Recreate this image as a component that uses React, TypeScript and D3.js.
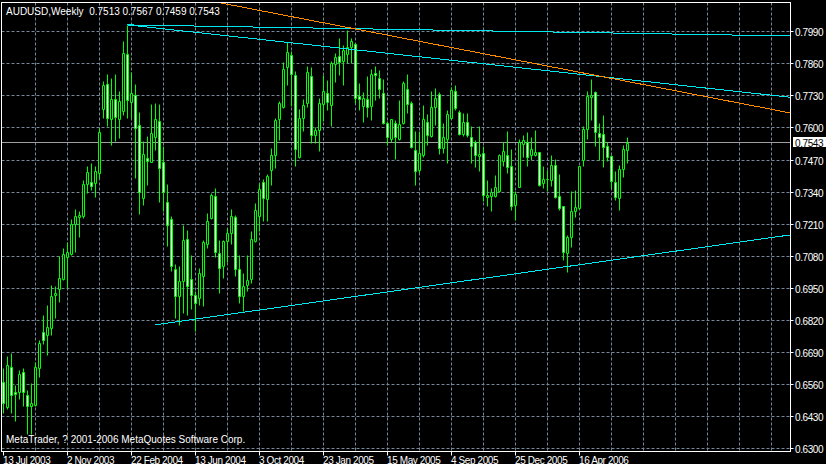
import { useEffect, useRef } from 'react';
import * as d3 from 'd3';

const symbol = 'AUDUSD';
const period = 'Weekly';

// weekly bars from 13 Jul 2003
const open = [
  0.6571, 0.6471, 0.6633, 0.6531, 0.6531, 0.6614, 0.6521, 0.6474, 0.6478, 0.6629,
  0.6775, 0.6762, 0.6789, 0.6926, 0.6949, 0.6991, 0.7079, 0.7092, 0.7214, 0.7239,
  0.7243, 0.7374, 0.7382, 0.7378, 0.7419, 0.7678, 0.7779, 0.7638, 0.7719, 0.7638,
  0.7669, 0.7901, 0.7709, 0.7736, 0.7615, 0.7318, 0.7480, 0.7464, 0.7567, 0.7632,
  0.7466, 0.7302, 0.7233, 0.7028, 0.6920, 0.6980, 0.7152, 0.6990, 0.6925, 0.6913,
  0.7001, 0.7131, 0.7237, 0.7327, 0.7095, 0.7041, 0.7142, 0.7176, 0.7241, 0.7030,
  0.6922, 0.6967, 0.6990, 0.7142, 0.7244, 0.7383, 0.7314, 0.7430, 0.7493, 0.7638,
  0.7686, 0.7848, 0.7898, 0.7817, 0.7484, 0.7642, 0.7703, 0.7811, 0.7574, 0.7594,
  0.7698, 0.7743, 0.7696, 0.7860, 0.7892, 0.7875, 0.7901, 0.7932, 0.7941, 0.7730,
  0.7693, 0.7719, 0.7693, 0.7824, 0.7806, 0.7743, 0.7621, 0.7557, 0.7621, 0.7558,
  0.7624, 0.7759, 0.7703, 0.7511, 0.7430, 0.7493, 0.7626, 0.7570, 0.7686, 0.7739,
  0.7520, 0.7557, 0.7642, 0.7750, 0.7665, 0.7578, 0.7628, 0.7567, 0.7547, 0.7489,
  0.7500, 0.7322, 0.7325, 0.7325, 0.7345, 0.7470, 0.7493, 0.7449, 0.7288, 0.7362,
  0.7536, 0.7547, 0.7491, 0.7492, 0.7504, 0.7378, 0.7395, 0.7389, 0.7453, 0.7327,
  0.7287, 0.7095, 0.7160, 0.7264, 0.7277, 0.7473, 0.7597, 0.7727, 0.7747, 0.7581,
  0.7577, 0.7530, 0.7487, 0.7383, 0.7318, 0.7435, 0.7513,
];
const high = [
  0.6629, 0.6676, 0.6690, 0.6560, 0.6620, 0.6629, 0.6541, 0.6568, 0.6652, 0.6744,
  0.6845, 0.6886, 0.6967, 0.6960, 0.7081, 0.7115, 0.7138, 0.7233, 0.7273, 0.7264,
  0.7392, 0.7449, 0.7460, 0.7446, 0.7601, 0.7793, 0.7820, 0.7804, 0.7820, 0.7750,
  0.7955, 0.8020, 0.7828, 0.7779, 0.7666, 0.7550, 0.7571, 0.7700, 0.7702, 0.7700,
  0.7527, 0.7376, 0.7244, 0.7052, 0.7041, 0.7210, 0.7187, 0.7088, 0.6940, 0.7034,
  0.7149, 0.7257, 0.7338, 0.7358, 0.7149, 0.7149, 0.7196, 0.7273, 0.7250, 0.7088,
  0.7014, 0.7088, 0.7183, 0.7298, 0.7379, 0.7395, 0.7416, 0.7520, 0.7642, 0.7713,
  0.7871, 0.7952, 0.7916, 0.7835, 0.7678, 0.7719, 0.7854, 0.7848, 0.7605, 0.7725,
  0.7817, 0.7797, 0.7874, 0.7905, 0.7968, 0.7939, 0.7999, 0.7968, 0.7948, 0.7786,
  0.7747, 0.7813, 0.7842, 0.7854, 0.7838, 0.7800, 0.7632, 0.7639, 0.7635, 0.7716,
  0.7794, 0.7821, 0.7712, 0.7588, 0.7588, 0.7696, 0.7659, 0.7752, 0.7763, 0.7747,
  0.7621, 0.7676, 0.7767, 0.7777, 0.7676, 0.7662, 0.7662, 0.7608, 0.7554, 0.7611,
  0.7530, 0.7389, 0.7358, 0.7412, 0.7497, 0.7547, 0.7588, 0.7516, 0.7345, 0.7557,
  0.7574, 0.7584, 0.7565, 0.7595, 0.7504, 0.7449, 0.7433, 0.7493, 0.7476, 0.7416,
  0.7287, 0.7169, 0.7347, 0.7352, 0.7449, 0.7611, 0.7750, 0.7801, 0.7750, 0.7624,
  0.7655, 0.7547, 0.7493, 0.7428, 0.7453, 0.7534, 0.7567,
];
const low = [
  0.6447, 0.6461, 0.6447, 0.6415, 0.6501, 0.6474, 0.6359, 0.6359, 0.6474, 0.6593,
  0.6724, 0.6683, 0.6764, 0.6832, 0.6895, 0.6987, 0.6953, 0.7088, 0.7098, 0.7160,
  0.7237, 0.7338, 0.7349, 0.7324, 0.7399, 0.7642, 0.7612, 0.7531, 0.7550, 0.7561,
  0.7655, 0.7642, 0.7642, 0.7399, 0.7254, 0.7291, 0.7372, 0.7464, 0.7513, 0.7301,
  0.7264, 0.7122, 0.7021, 0.6832, 0.6801, 0.6852, 0.6845, 0.6866, 0.6778, 0.6882,
  0.6879, 0.7115, 0.7233, 0.7079, 0.6933, 0.6994, 0.7057, 0.7133, 0.7003, 0.6893,
  0.6859, 0.6940, 0.6974, 0.7138, 0.7183, 0.7223, 0.7223, 0.7372, 0.7439, 0.7554,
  0.7682, 0.7777, 0.7692, 0.7446, 0.7480, 0.7588, 0.7686, 0.7543, 0.7540, 0.7507,
  0.7632, 0.7676, 0.7612, 0.7790, 0.7817, 0.7777, 0.7865, 0.7865, 0.7703, 0.7676,
  0.7628, 0.7648, 0.7635, 0.7716, 0.7723, 0.7619, 0.7531, 0.7547, 0.7477, 0.7554,
  0.7619, 0.7662, 0.7520, 0.7369, 0.7419, 0.7484, 0.7531, 0.7565, 0.7615, 0.7497,
  0.7500, 0.7460, 0.7639, 0.7676, 0.7574, 0.7568, 0.7565, 0.7460, 0.7443, 0.7426,
  0.7304, 0.7284, 0.7264, 0.7322, 0.7341, 0.7449, 0.7419, 0.7268, 0.7230, 0.7362,
  0.7484, 0.7446, 0.7473, 0.7487, 0.7365, 0.7358, 0.7345, 0.7365, 0.7318, 0.7270,
  0.7068, 0.7017, 0.7119, 0.7241, 0.7273, 0.7449, 0.7557, 0.7635, 0.7527, 0.7473,
  0.7443, 0.7470, 0.7358, 0.7308, 0.7270, 0.7403, 0.7459,
];
const close = [
  0.6487, 0.6639, 0.6519, 0.6525, 0.6606, 0.6532, 0.6474, 0.6487, 0.6633, 0.6730,
  0.6741, 0.6795, 0.6922, 0.6933, 0.6994, 0.7092, 0.7099, 0.7214, 0.7246, 0.7250,
  0.7376, 0.7423, 0.7365, 0.7427, 0.7585, 0.7777, 0.7642, 0.7719, 0.7646, 0.7712,
  0.7905, 0.7716, 0.7743, 0.7601, 0.7342, 0.7496, 0.7470, 0.7581, 0.7638, 0.7439,
  0.7342, 0.7207, 0.7041, 0.6920, 0.6980, 0.7149, 0.6960, 0.6925, 0.6893, 0.7014,
  0.7140, 0.7223, 0.7331, 0.7099, 0.7034, 0.7142, 0.7176, 0.7244, 0.7030, 0.6920,
  0.6960, 0.6987, 0.7152, 0.7268, 0.7354, 0.7318, 0.7408, 0.7493, 0.7635, 0.7703,
  0.7840, 0.7912, 0.7821, 0.7516, 0.7642, 0.7696, 0.7831, 0.7574, 0.7594, 0.7703,
  0.7752, 0.7707, 0.7865, 0.7889, 0.7871, 0.7919, 0.7929, 0.7955, 0.7723, 0.7719,
  0.7723, 0.7686, 0.7821, 0.7817, 0.7759, 0.7621, 0.7565, 0.7638, 0.7567, 0.7617,
  0.7783, 0.7698, 0.7524, 0.7426, 0.7500, 0.7638, 0.7572, 0.7686, 0.7723, 0.7520,
  0.7565, 0.7658, 0.7756, 0.7682, 0.7578, 0.7626, 0.7574, 0.7527, 0.7493, 0.7497,
  0.7331, 0.7331, 0.7342, 0.7362, 0.7493, 0.7509, 0.7443, 0.7284, 0.7335, 0.7547,
  0.7554, 0.7484, 0.7516, 0.7505, 0.7372, 0.7395, 0.7396, 0.7453, 0.7322, 0.7277,
  0.7098, 0.7160, 0.7264, 0.7281, 0.7449, 0.7599, 0.7730, 0.7736, 0.7584, 0.7565,
  0.7524, 0.7484, 0.7385, 0.7322, 0.7435, 0.7518, 0.7543,
];

const priceTicks = [
  0.799, 0.786, 0.773, 0.76, 0.747, 0.734, 0.721, 0.708, 0.695, 0.682, 0.669, 0.656, 0.643, 0.63,
];
const dateLabels = [
  '13 Jul 2003', '2 Nov 2003', '22 Feb 2004', '13 Jun 2004', '3 Oct 2004',
  '23 Jan 2005', '15 May 2005', '4 Sep 2005', '25 Dec 2005', '16 Apr 2006',
];
const dateLabelBars = [0, 16, 32, 48, 64, 80, 96, 112, 128, 144];

// trendlines: [bar index, price] anchors
const trendLines = [
  { color: '#00e8f0', from: [31, 0.802], to: [197, 0.7975] },
  { color: '#00e8f0', from: [31, 0.802], to: [197, 0.7726] },
  { color: '#ff8c00', from: [54, 0.811], to: [197, 0.7662] },
  { color: '#00e8f0', from: [38, 0.6804], to: [197, 0.7169] },
];

const copyright = 'MetaTrader, ? 2001-2006 MetaQuotes Software Corp.';

export default function App() {
  const svgRef = useRef<SVGSVGElement>(null);

  useEffect(() => {
    if (!svgRef.current) return;
    const svg = d3.select(svgRef.current);
    svg.selectAll('*').remove();

    const width = 826;
    const height = 464;
    const plot = { left: 1.5, right: 790.5, top: 2.5, bottom: 451.5 };
    const font = "'Liberation Sans', Arial, sans-serif";
    const lime = '#00ff00';
    const gridColor = '#778899';

    const x = d3.scaleLinear().domain([0, 197]).range([3.5, 791.5]);
    const y = d3.scaleLinear().domain([0.63, 0.799]).range([449, 32.3]);
    const py = (v: number) => Math.round(y(v)) + 0.5;

    svg.append('rect').attr('width', width).attr('height', height).attr('fill', '#000');

    svg
      .append('clipPath')
      .attr('id', 'plot-clip')
      .append('rect')
      .attr('x', plot.left)
      .attr('y', plot.top)
      .attr('width', plot.right - plot.left)
      .attr('height', plot.bottom - plot.top);

    const g = svg.append('g').attr('clip-path', 'url(#plot-clip)');

    // grid
    priceTicks.forEach((p) => {
      g.append('line')
        .attr('x1', plot.left)
        .attr('x2', plot.right)
        .attr('y1', py(p) - 1)
        .attr('y2', py(p) - 1)
        .attr('stroke', gridColor)
        .attr('stroke-dasharray', '3,2');
    });
    for (let b = 8; x(b) < plot.right; b += 8) {
      g.append('line')
        .attr('x1', x(b))
        .attr('x2', x(b))
        .attr('y1', plot.top)
        .attr('y2', plot.bottom)
        .attr('stroke', gridColor)
        .attr('stroke-dasharray', '3,2');
    }

    // bid line
    const last = close.length - 1;
    g.append('line')
      .attr('x1', plot.left)
      .attr('x2', plot.right)
      .attr('y1', py(close[last]) - 1)
      .attr('y2', py(close[last]) - 1)
      .attr('stroke', '#a0a0a0');

    // candles
    close.forEach((c, i) => {
      const o = open[i];
      const cx = x(i);
      g.append('line')
        .attr('x1', cx)
        .attr('x2', cx)
        .attr('y1', py(high[i]))
        .attr('y2', py(low[i]))
        .attr('stroke', lime);
      const top = py(Math.max(o, c));
      const bot = py(Math.min(o, c));
      g.append('path')
        .attr('d', `M${cx - 1},${top}H${cx + 1}V${bot}H${cx - 1}Z`)
        .attr('fill', c >= o ? '#000' : '#fff')
        .attr('stroke', lime);
    });

    // trendlines
    trendLines.forEach((t) => {
      g.append('line')
        .attr('x1', x(t.from[0]))
        .attr('y1', y(t.from[1]))
        .attr('x2', x(t.to[0]))
        .attr('y2', y(t.to[1]))
        .attr('stroke', t.color)
        .attr('stroke-width', 1)
        .attr('shape-rendering', 'crispEdges');
    });

    // frame
    svg
      .append('rect')
      .attr('x', plot.left)
      .attr('y', plot.top)
      .attr('width', plot.right - plot.left)
      .attr('height', plot.bottom - plot.top)
      .attr('fill', 'none')
      .attr('stroke', '#fff');

    // price axis
    priceTicks.forEach((p) => {
      const yy = py(p) - 1;
      svg
        .append('line')
        .attr('x1', plot.right)
        .attr('x2', plot.right + 3)
        .attr('y1', yy)
        .attr('y2', yy)
        .attr('stroke', '#fff');
      svg
        .append('text')
        .attr('x', 795)
        .attr('y', yy + 4)
        .attr('fill', '#fff')
        .attr('font-family', font)
        .attr('font-size', 10)
        .attr('letter-spacing', -0.4)
        .text(p.toFixed(4));
    });

    // bid label
    const by = py(close[last]) - 1;
    svg
      .append('rect')
      .attr('x', 793)
      .attr('y', by - 5.5)
      .attr('width', 33)
      .attr('height', 10)
      .attr('fill', '#fff');
    svg
      .append('text')
      .attr('x', 795)
      .attr('y', by + 4)
      .attr('fill', '#000')
      .attr('font-family', font)
      .attr('font-size', 10)
      .attr('letter-spacing', -0.4)
      .text(close[last].toFixed(4));

    // time axis
    dateLabels.forEach((label, k) => {
      const tx = x(dateLabelBars[k]);
      svg
        .append('line')
        .attr('x1', tx)
        .attr('x2', tx)
        .attr('y1', plot.bottom)
        .attr('y2', plot.bottom + 4)
        .attr('stroke', '#fff');
      svg
        .append('text')
        .attr('x', tx - 0.5)
        .attr('y', 463.5)
        .attr('fill', '#fff')
        .attr('font-family', font)
        .attr('font-size', 10)
        .attr('letter-spacing', -0.4)
        .text(label);
    });

    // header and copyright
    svg
      .append('text')
      .attr('x', 6)
      .attr('y', 14.5)
      .attr('fill', '#fff')
      .attr('font-family', font)
      .attr('font-size', 10)
      .attr('xml:space', 'preserve')
      .style('white-space', 'pre')
      .text(
        `${symbol},${period}  ${open[last].toFixed(4)} ${high[last].toFixed(4)} ${low[last].toFixed(4)} ${close[last].toFixed(4)}`
      );
    svg
      .append('text')
      .attr('x', 6)
      .attr('y', 443)
      .attr('fill', '#fff')
      .attr('font-family', font)
      .attr('font-size', 10)
      .text(copyright);
  }, []);

  return (
    <svg
      ref={svgRef}
      width={826}
      height={464}
      style={{ position: 'absolute', left: 0, top: 0, display: 'block' }}
    />
  );
}
